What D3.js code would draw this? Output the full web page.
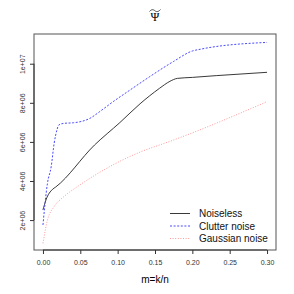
<!DOCTYPE html>
<html>
<head>
<meta charset="utf-8">
<script src="https://d3js.org/d3.v7.min.js"></script>
<style>
  body { margin: 0; background: #fff; }
  text { font-family: "Liberation Sans", Arial, sans-serif; }
</style>
</head>
<body>
<div id="chart"></div>
<script>
// values
var mNoiseless = [0, 0.004, 0.013, 0.017, 0.069, 0.103, 0.13, 0.156, 0.17, 0.18, 0.2, 0.232, 0.3];
var noiseless  = [2.52e6, 3.03e6, 3.58e6, 3.69e6, 5.84e6, 6.99e6, 7.95e6, 8.74e6, 9.1e6, 9.25e6, 9.3e6, 9.39e6, 9.56e6];

var mClutter = [0, 0.006, 0.011, 0.015, 0.019, 0.021, 0.028, 0.041, 0.063, 0.076, 0.094, 0.116, 0.143, 0.175, 0.2, 0.212, 0.3];
var clutter  = [1.75e6, 3.88e6, 4.73e6, 5.93e6, 6.65e6, 6.86e6, 6.95e6, 6.98e6, 7.21e6, 7.55e6, 8.06e6, 8.64e6, 9.34e6, 1.012e7, 1.065e7, 1.075e7, 1.109e7];

var mGauss = [0, 0.006, 0.015, 0.028, 0.046, 0.068, 0.143, 0.156, 0.3];
var gauss  = [0.81e6, 2.0e6, 2.69e6, 3.2e6, 3.71e6, 4.26e6, 5.67e6, 5.84e6, 8.06e6];

var xTicks = [0, 0.05, 0.1, 0.15, 0.2, 0.25, 0.3];
var xTickLabels = ["0.00", "0.05", "0.10", "0.15", "0.20", "0.25", "0.30"];
var yTicks = [2e6, 4e6, 6e6, 8e6, 1e7];
var yTickLabels = ["2e+06", "4e+06", "6e+06", "8e+06", "1e+07"];

var seriesNames = ["Noiseless", "Clutter noise", "Gaussian noise"];

var W = 294, H = 294;
var plot = {left: 34, right: 276, top: 34, bottom: 250};

var svg = d3.select("#chart").append("svg")
  .attr("width", W).attr("height", H);

var x = d3.scaleLinear().domain([-0.012, 0.312]).range([plot.left, plot.right]);
var y = d3.scaleLinear().domain([0.47e6, 1.152e7]).range([plot.bottom, plot.top]);

var series = [
  {name: seriesNames[0], m: mNoiseless, v: noiseless, color: "#222", dash: null, width: 0.9},
  {name: seriesNames[1], m: mClutter, v: clutter, color: "#4a4aff", dash: "2,1.6", width: 1},
  {name: seriesNames[2], m: mGauss, v: gauss, color: "#ff9a9a", dash: "1,1.6", width: 1}
];

var line = d3.line()
  .x(function(d) { return x(d[0]); })
  .y(function(d) { return y(d[1]); })
  .curve(d3.curveMonotoneX);

series.forEach(function(s) {
  svg.append("path")
    .datum(d3.zip(s.m, s.v))
    .attr("d", line)
    .attr("fill", "none")
    .attr("stroke", s.color)
    .attr("stroke-width", s.width)
    .attr("stroke-dasharray", s.dash);
});

// box
svg.append("rect")
  .attr("x", plot.left).attr("y", plot.top)
  .attr("width", plot.right - plot.left).attr("height", plot.bottom - plot.top)
  .attr("fill", "none").attr("stroke", "#555").attr("stroke-width", 1);

// x axis
var xAxis = svg.append("g")
  .attr("transform", "translate(0," + plot.bottom + ")")
  .call(d3.axisBottom(x).tickValues(xTicks).tickSize(4).tickPadding(6)
    .tickFormat(function(d, i) { return xTickLabels[i]; }));
xAxis.select(".domain").remove();
xAxis.append("line")
  .attr("x1", x(xTicks[0])).attr("x2", x(xTicks[xTicks.length - 1]))
  .attr("stroke", "#333");
xAxis.selectAll("line").attr("stroke", "#333");
xAxis.selectAll("text").attr("fill", "#333").style("font-size", "7px")
  .style("font-family", "'Liberation Sans', Arial, sans-serif");

// y axis
var yAxis = svg.append("g")
  .attr("transform", "translate(" + plot.left + ",0)")
  .call(d3.axisLeft(y).tickValues(yTicks).tickSize(4).tickPadding(0)
    .tickFormat(function(d, i) { return yTickLabels[i]; }));
yAxis.select(".domain").remove();
yAxis.append("line")
  .attr("y1", y(yTicks[0])).attr("y2", y(yTicks[yTicks.length - 1]))
  .attr("stroke", "#333");
yAxis.selectAll("line").attr("stroke", "#333");
yAxis.selectAll(".tick text")
  .attr("fill", "#333").style("font-size", "7px")
  .style("font-family", "'Liberation Sans', Arial, sans-serif")
  .attr("x", null).attr("dy", null)
  .attr("text-anchor", "middle")
  .attr("transform", "translate(-9.5,0) rotate(-90)");

// axis title
svg.append("text")
  .attr("x", (plot.left + plot.right) / 2).attr("y", 283)
  .attr("text-anchor", "middle")
  .style("font-size", "10px")
  .text("m=k/n");

// main title: Psi with a wide tilde
var tx = (plot.left + plot.right) / 2;
svg.append("text")
  .attr("x", tx).attr("y", 21)
  .attr("text-anchor", "middle")
  .style("font-family", "'Liberation Serif', 'DejaVu Serif', serif")
  .style("font-size", "12px")
  .text("Ψ");
svg.append("path")
  .attr("d", "M" + (tx - 5.5) + ",11.5 C" + (tx - 3) + ",8.5 " + (tx - 1) + ",10 " + tx + ",10.8 S" + (tx + 3) + ",12.5 " + (tx + 5.5) + ",9.5")
  .attr("fill", "none").attr("stroke", "#222").attr("stroke-width", 0.8);

// legend
var legend = svg.append("g");
series.forEach(function(s, i) {
  var ly = 213.5 + i * 12.5;
  legend.append("line")
    .attr("x1", 170).attr("x2", 190)
    .attr("y1", ly).attr("y2", ly)
    .attr("stroke", s.color).attr("stroke-width", s.width)
    .attr("stroke-dasharray", s.dash);
  legend.append("text")
    .attr("x", 199).attr("y", ly + 3.6)
    .style("font-size", "10px")
    .attr("fill", "#111")
    .text(s.name);
});
</script>
</body>
</html>
